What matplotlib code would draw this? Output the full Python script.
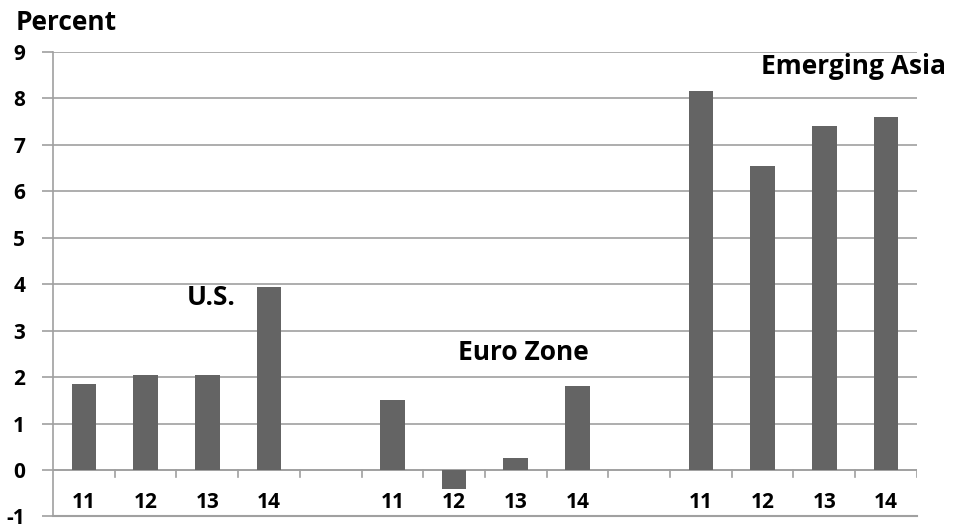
import matplotlib.pyplot as plt
import numpy as np

plt.rcParams['font.family'] = ['Open Sans', 'DejaVu Sans']
plt.rcParams['font.weight'] = 'bold'

# data
years = ['11', '12', '13', '14']
regions = ['U.S.', 'Euro Zone', 'Emerging Asia']
us = [1.85, 2.05, 2.05, 3.95]
euro = [1.5, -0.4, 0.25, 1.8]
asia = [8.15, 6.55, 7.4, 7.6]

# 14 slots: 4 bars, gap, 4 bars, gap, 4 bars
values = us + [np.nan] + euro + [np.nan] + asia
labels = years + [''] + years + [''] + years
x = np.arange(len(values))

fig = plt.figure(figsize=(9.61, 5.27), dpi=100)
ax = fig.add_axes([0.0552, 0.02, 0.8989, 0.8813])

grid_c = '#a0a0a0'
ax.bar(x, values, width=0.4, color='#646464', zorder=3)

ax.set_xlim(-0.5, len(values) - 0.5)
ax.set_ylim(-1, 9)
yt = list(range(-1, 10))
ax.set_yticks(yt)
ax.set_yticklabels([str(v) for v in yt], fontsize=15, fontweight='bold')
ax.yaxis.grid(True, color=grid_c, linewidth=1.2, zorder=0)
ax.tick_params(axis='y', length=8, color=grid_c, width=1.2, pad=12)

ax.set_xticks([])
for s in ['top', 'right']:
    ax.spines[s].set_visible(False)
ax.spines['left'].set_color(grid_c)
ax.spines['bottom'].set_color(grid_c)
ax.spines['left'].set_linewidth(1.2)
ax.spines['bottom'].set_linewidth(1.5)

# zero line with category tick marks
ax.axhline(0, color=grid_c, linewidth=1.2, zorder=2)
for b in np.arange(0.5, len(values) - 0.5 + 1):
    ax.plot([b, b], [0, -0.15], color=grid_c, linewidth=1.2, zorder=2)

for xi, lab in zip(x, labels):
    ax.text(xi, -0.7, lab, ha='center', va='center', fontsize=15, fontweight='bold')

ax.text(2.06, 3.72, regions[0], ha='center', va='center', fontsize=19, fontweight='bold')
ax.text(7.13, 2.52, regions[1], ha='center', va='center', fontsize=19, fontweight='bold')
ax.text(12.48, 8.68, regions[2], ha='center', va='center', fontsize=19, fontweight='bold', clip_on=False)

fig.text(0.016, 0.958, 'Percent', ha='left', va='center', fontsize=19, fontweight='bold')

plt.savefig('out.png', dpi=100)
